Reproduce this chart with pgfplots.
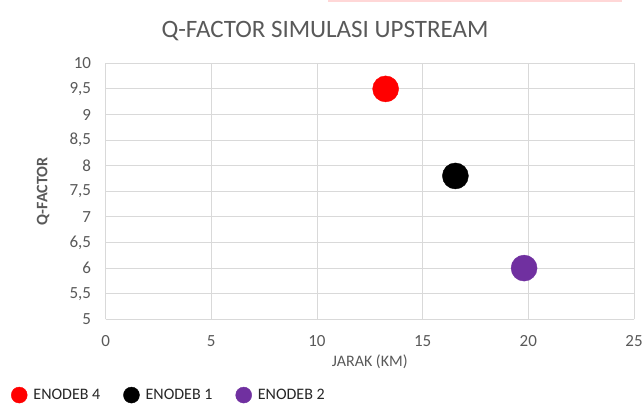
\documentclass[border=0pt]{standalone}
\usepackage{pgfplots}
\pgfplotsset{compat=1.18}
\usepackage{fontspec}
\setmainfont{Carlito}
\definecolor{txt}{RGB}{89,89,89}
\definecolor{grd}{RGB}{217,217,217}
\definecolor{epurple}{RGB}{112,48,160}
\definecolor{pinkbar}{RGB}{255,215,215}
\definecolor{legtxt}{RGB}{38,38,38}
\begin{document}
\begin{tikzpicture}[x=1pt,y=1pt]
\useasboundingbox (0,0) rectangle (642,405);
\fill[pinkbar] (328,403) rectangle (622,405);
\node[text=txt,font=\fontsize{25}{27}\selectfont] at (325,374) {Q-FACTOR SIMULASI UPSTREAM};
\begin{axis}[
  at={(105.6pt,85.7pt)}, anchor=south west,
  scale only axis, width=528.4pt, height=256pt,
  xmin=0, xmax=25, ymin=5, ymax=10,
  xtick={0,5,...,25}, ytick={5,5.5,...,10},
  grid=major, grid style={grd, line width=0.9pt},
  axis line style={grd, line width=0.9pt},
  axis x line*=bottom, axis y line*=left,
  tick style={draw=none},
  ticklabel style={text=txt, font=\fontsize{17}{19}\selectfont},
  /pgf/number format/assume math mode=true,
  /pgf/number format/use comma,
  /pgf/number format/fixed,
  xticklabel style={yshift=-13pt},
  yticklabel style={xshift=-11pt},
  xlabel={JARAK (KM)}, ylabel={\bfseries Q-FACTOR},
  label style={text=txt, font=\fontsize{16}{18}\selectfont},
  xlabel style={at={(axis description cs:0.5,-0.167)}, anchor=center},
  ylabel style={at={(axis description cs:-0.118,0.5)}, anchor=center},
  legend columns=3,
  legend style={at={(-0.185,-0.296)}, anchor=west, draw=none, fill=none,
    font=\fontsize{16}{18}\selectfont, text=legtxt,
    /tikz/every even column/.append style={column sep=21pt}},
  legend image code/.code={\fill[#1] (0pt,0pt) circle (8pt);\path (-8pt,0pt) (12pt,0pt);},
]
\addplot[only marks, mark=*, mark size=13pt, color=red] coordinates {(13.25,9.5)};
\addlegendentry{ENODEB 4}
\addplot[only marks, mark=*, mark size=13pt, color=black] coordinates {(16.55,7.8)};
\addlegendentry{ENODEB 1}
\addplot[only marks, mark=*, mark size=13pt, color=epurple] coordinates {(19.8,6.0)};
\addlegendentry{ENODEB 2}
\end{axis}
\end{tikzpicture}
\end{document}
